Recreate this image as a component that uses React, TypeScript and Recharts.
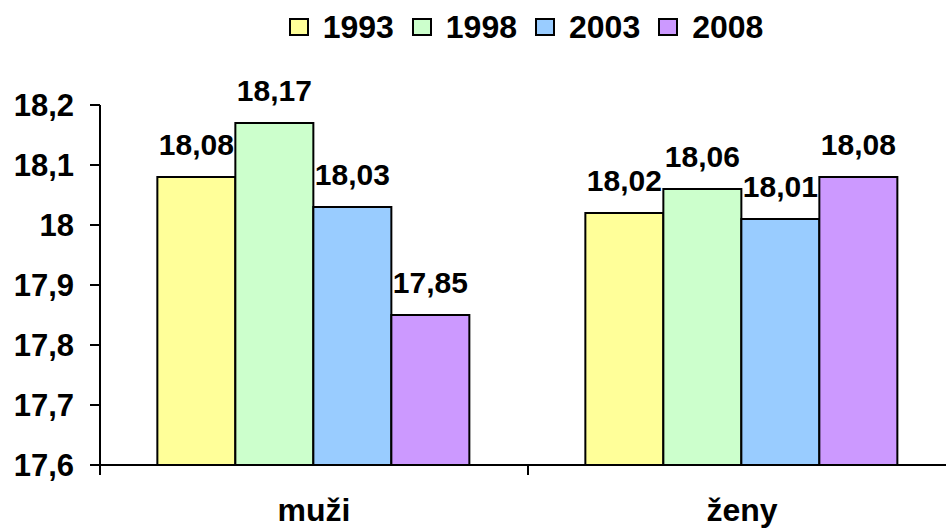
import { BarChart, Bar, XAxis, YAxis, Legend, LabelList } from 'recharts'

const categories = ['muži', 'ženy']
const years = ['1993', '1998', '2003', '2008']
const v1993 = [18.08, 18.02]
const v1998 = [18.17, 18.06]
const v2003 = [18.03, 18.01]
const v2008 = [17.85, 18.08]
const yTicks = [17.6, 17.7, 17.8, 17.9, 18.0, 18.1, 18.2]
const colors = ['#FFFF99', '#CCFFCC', '#99CCFF', '#CC99FF']

const seriesValues = [v1993, v1998, v2003, v2008]

const data = categories.map((name, i) => {
  const row: Record<string, string | number> = { name }
  years.forEach((y, s) => {
    row[y] = seriesValues[s][i]
  })
  return row
})

const FONT = '"Liberation Sans", Arial, sans-serif'

const fmt = (v: unknown) => String(v).replace('.', ',')

function LegendContent(props: any) {
  const { payload = [] } = props
  return (
    <div
      style={{
        display: 'flex',
        justifyContent: 'center',
        alignItems: 'center',
        height: 50,
        paddingLeft: 114,
        fontFamily: FONT,
      }}
    >
      {payload.map((entry: any) => {
        const idx = years.indexOf(String(entry.dataKey))
        return (
          <div key={entry.dataKey} style={{ display: 'flex', alignItems: 'center', marginRight: 18 }}>
            <span
              style={{
                width: 20,
                height: 18,
                boxSizing: 'border-box',
                background: colors[idx],
                border: '2px solid #000',
                marginRight: 14,
                display: 'inline-block',
              }}
            />
            <span style={{ fontWeight: 'bold', fontSize: 32, color: '#000' }}>{entry.value}</span>
          </div>
        )
      })}
    </div>
  )
}

function CategoryTick(props: any) {
  const { x, y, payload } = props
  const half = payload.offset ?? 0
  return (
    <g>
      <line x1={x - half} x2={x - half} y1={y} y2={y + 10} stroke="#000" strokeWidth={2} />
      <line x1={x + half} x2={x + half} y1={y} y2={y + 10} stroke="#000" strokeWidth={2} />
      <text
        x={x}
        y={y + 56}
        textAnchor="middle"
        fill="#000"
        style={{ fontFamily: FONT, fontWeight: 'bold', fontSize: 32 }}
      >
        {payload.value}
      </text>
    </g>
  )
}

export default function App() {
  return (
    <div
      style={{
        position: 'absolute',
        left: 0,
        top: 0,
        width: 946,
        height: 528,
        overflow: 'hidden',
        background: '#fff',
      }}
    >
      <BarChart
        width={956}
        height={528}
        data={data}
        margin={{ top: 55, right: 0, left: 0, bottom: 0 }}
        barCategoryGap="13.4%"
        barGap={0}
      >
        <Legend
          verticalAlign="top"
          content={<LegendContent />}
          wrapperStyle={{ top: 2, left: 0, width: 956 }}
        />
        <XAxis
          dataKey="name"
          stroke="#000"
          strokeWidth={2}
          tickLine={false}
          tickSize={0}
          tickMargin={0}
          height={63}
          tick={<CategoryTick />}
          interval={0}
        />
        <YAxis
          type="number"
          domain={[17.6, 18.2]}
          ticks={yTicks}
          width={100}
          stroke="#000"
          strokeWidth={2}
          tickSize={10}
          tickMargin={16}
          tickFormatter={(v: number) => fmt(Math.round(v * 10) / 10)}
          tick={{ fill: '#000', fontFamily: FONT, fontWeight: 'bold', fontSize: 31 }}
          allowDataOverflow
        />
        {years.map((y, i) => (
          <Bar
            key={y}
            dataKey={y}
            name={y}
            fill={colors[i]}
            stroke="#000"
            strokeWidth={2}
            isAnimationActive={false}
          >
            <LabelList
              dataKey={y}
              position="top"
              offset={22}
              formatter={fmt}
              fill="#000"
              style={{ fontFamily: FONT, fontWeight: 'bold', fontSize: 30 }}
            />
          </Bar>
        ))}
      </BarChart>
    </div>
  )
}
